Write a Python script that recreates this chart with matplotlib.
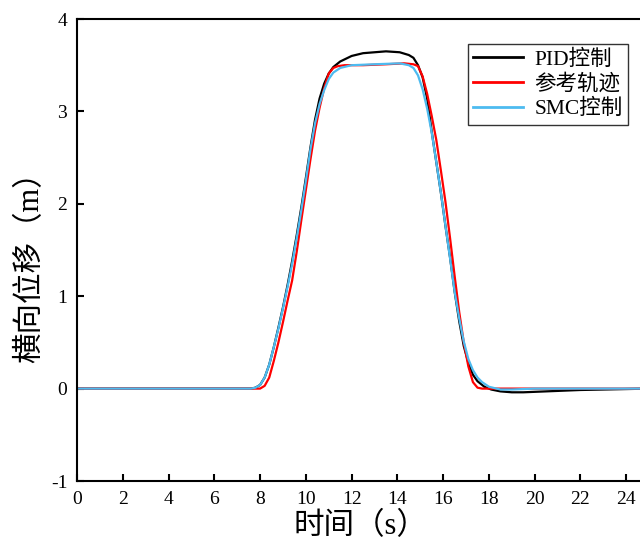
import matplotlib
matplotlib.use("Agg")
import matplotlib.pyplot as plt

plt.rcParams['font.family'] = ['Liberation Serif', 'Noto Sans CJK SC', 'DejaVu Sans']
plt.rcParams['axes.unicode_minus'] = False

# ---- data ----
t_ref = [0, 7.8, 8.0, 8.2, 8.4, 8.6, 8.8, 9.0, 9.2, 9.4, 9.6, 9.8, 10.0, 10.2, 10.4,
         10.6, 10.8, 11.0, 11.2, 11.4, 11.7, 12.5, 13.5, 14.3, 14.7, 14.9, 15.1, 15.3,
         15.5, 15.7, 15.9, 16.1, 16.3, 16.5, 16.7, 16.9, 17.1, 17.3, 17.5, 17.7, 20, 25]
y_ref = [0, 0, 0.0, 0.03, 0.12, 0.30, 0.50, 0.72, 0.95, 1.17, 1.48, 1.82, 2.15, 2.48, 2.79,
         3.04, 3.25, 3.41, 3.47, 3.49, 3.50, 3.50, 3.51, 3.52, 3.51, 3.49, 3.38, 3.19,
         2.95, 2.69, 2.36, 2.02, 1.63, 1.22, 0.83, 0.50, 0.24, 0.07, 0.01, 0.0, 0.0, 0.0]

t_smc = [0, 7.6, 7.8, 8.0, 8.2, 8.4, 8.6, 8.8, 9.0, 9.2, 9.4, 9.6, 9.8, 10.0, 10.2, 10.4,
         10.6, 10.8, 11.0, 11.2, 11.5, 12.0, 13.0, 14.1, 14.5, 14.7, 14.9, 15.1, 15.3,
         15.5, 15.7, 15.9, 16.1, 16.3, 16.5, 16.7, 16.9, 17.1, 17.3, 17.5, 17.7, 18.0,
         18.5, 19.0, 20.0, 25.0]
y_smc = [0, 0, 0.01, 0.04, 0.12, 0.26, 0.45, 0.65, 0.87, 1.10, 1.35, 1.63, 1.93, 2.25, 2.59, 2.87,
         3.08, 3.23, 3.35, 3.42, 3.47, 3.50, 3.51, 3.52, 3.50, 3.47, 3.39, 3.24, 3.03,
         2.77, 2.45, 2.12, 1.76, 1.41, 1.05, 0.76, 0.51, 0.32, 0.20, 0.12, 0.07, 0.02,
         -0.01, -0.01, 0.0, 0.0]

t_pid = [0, 7.6, 7.8, 8.0, 8.2, 8.4, 8.6, 8.8, 9.0, 9.2, 9.4, 9.6, 9.8, 10.0, 10.2, 10.4,
         10.6, 10.8, 11.0, 11.2, 11.5, 12.0, 12.5, 13.0, 13.5, 14.1, 14.5, 14.7, 14.9,
         15.1, 15.3, 15.5, 15.7, 15.9, 16.1, 16.3, 16.5, 16.7, 16.9, 17.1, 17.3, 17.5,
         17.8, 18.1, 18.5, 19.0, 19.5, 20.0, 21.0, 22.0, 23.0, 24.0, 25.0]
y_pid = [0, 0, 0.01, 0.04, 0.12, 0.26, 0.45, 0.66, 0.88, 1.12, 1.38, 1.66, 1.96, 2.28, 2.61, 2.91,
         3.14, 3.30, 3.41, 3.48, 3.54, 3.60, 3.63, 3.64, 3.65, 3.64, 3.61, 3.58, 3.50,
         3.37, 3.14, 2.78, 2.45, 2.12, 1.76, 1.42, 1.05, 0.73, 0.46, 0.28, 0.15, 0.08,
         0.02, -0.01, -0.03, -0.04, -0.04, -0.035, -0.025, -0.015, -0.01, -0.005, 0.0]

labels = ['PID控制', '参考轨迹', 'SMC控制']
colors = ['black', '#FF0000', '#4DBBF0']
xticks = list(range(0, 25, 2))
yticks = [-1, 0, 1, 2, 3, 4]

fig = plt.figure(figsize=(6.4, 5.46), dpi=100)
ax = fig.add_axes([77/640, (546-481)/546, (640-77)/640, (481-19)/546])

ax.plot(t_pid, y_pid, color=colors[0], lw=1.6, label=labels[0])
ax.plot(t_ref, y_ref, color=colors[1], lw=1.6, label=labels[1])
ax.plot(t_smc, y_smc, color=colors[2], lw=1.6, label=labels[2])

ax.set_xlim(0, 24.6)
ax.set_ylim(-1, 4)
ax.set_xticks(xticks)
ax.set_yticks(yticks)
ax.set_yticklabels([str(v) for v in yticks])

for s in ['left', 'bottom', 'top']:
    ax.spines[s].set_linewidth(1.5)
ax.spines['right'].set_visible(False)
ax.tick_params(direction='in', length=5, width=1.5, labelsize=14,
               top=False, right=False, pad=7)

ax.set_xlabel('时间（s）', fontsize=22)
ax.xaxis.set_label_coords(0.503, -0.068)
ax.set_ylabel('横向位移（m）', fontsize=22)
ax.yaxis.set_label_coords(-0.056, 0.48)

leg = ax.legend(loc='upper right', bbox_to_anchor=(628/640, 1 - 44/546),
                bbox_transform=fig.transFigure, borderaxespad=0,
                fontsize=15.5, handlelength=2.3, handletextpad=0.55,
                labelspacing=0.2, borderpad=0.25, fancybox=False, framealpha=1)
leg.get_frame().set_edgecolor('#333333')
leg.get_frame().set_linewidth(1.0)
for line in leg.get_lines():
    line.set_linewidth(2.0)

fig.savefig('out.png', dpi=100)
